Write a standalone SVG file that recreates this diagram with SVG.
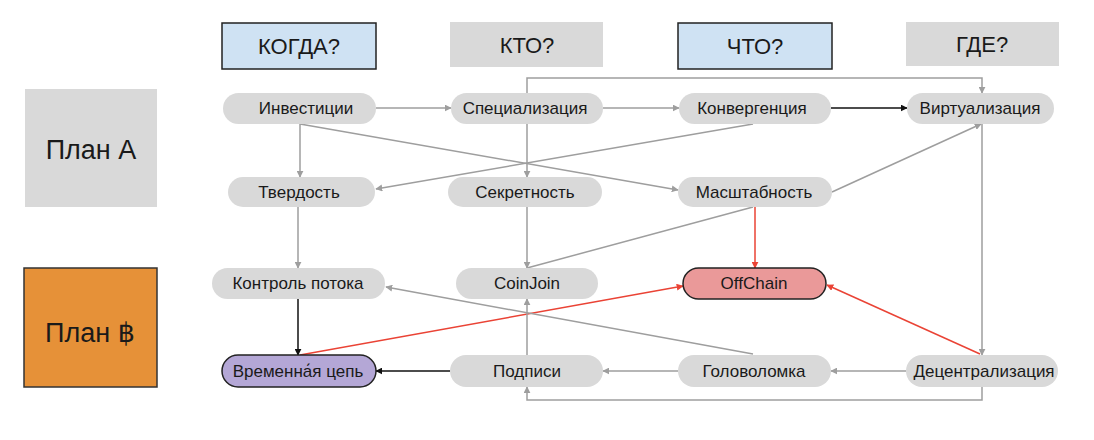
<svg xmlns="http://www.w3.org/2000/svg" width="1094" height="440" viewBox="0 0 1094 440">
<style>
text{font-family:"Liberation Sans",Arial,"DejaVu Sans",sans-serif;fill:#1a1a1a;text-anchor:middle;dominant-baseline:central}
.n rect{fill:#d9d9d9}
.n text{font-size:17px}
.hd text{font-size:22px}
.pl text{font-size:27px}
.blue{fill:#cfe2f3;stroke:#222;stroke-width:1.5}
.gray{fill:#d9d9d9}
.g{fill:none;stroke:#9e9e9e;stroke-width:1.5}
.k{fill:none;stroke:#111;stroke-width:1.5}
.r{fill:none;stroke:#ea4335;stroke-width:1.5}
</style>
<defs>
<marker id="ag" viewBox="0 0 10 10" refX="9" refY="5" markerWidth="7" markerHeight="7" markerUnits="userSpaceOnUse" orient="auto"><path d="M0,0L10,5L0,10z" fill="#9e9e9e"/></marker>
<marker id="ak" viewBox="0 0 10 10" refX="9" refY="5" markerWidth="7" markerHeight="7" markerUnits="userSpaceOnUse" orient="auto"><path d="M0,0L10,5L0,10z" fill="#111"/></marker>
<marker id="ar" viewBox="0 0 10 10" refX="9" refY="5" markerWidth="7" markerHeight="7" markerUnits="userSpaceOnUse" orient="auto"><path d="M0,0L10,5L0,10z" fill="#ea4335"/></marker>
</defs>
<rect width="1094" height="440" fill="#fff"/>
<g id="connectors">
<path class="g" d="M376,108H451" marker-end="url(#ag)"/>
<path class="g" d="M603,108H679" marker-end="url(#ag)"/>
<path class="k" d="M831,108H907" marker-end="url(#ak)"/>
<path class="g" d="M527,93V78H982V93" marker-end="url(#ag)"/>
<path class="g" d="M300,124V177" marker-end="url(#ag)"/>
<path class="g" d="M300,124L678,190" marker-end="url(#ag)"/>
<path class="g" d="M753,124L376,189" marker-end="url(#ag)"/>
<path class="g" d="M527,124V177" marker-end="url(#ag)"/>
<path class="g" d="M832,192L981,124" marker-end="url(#ag)"/>
<path class="g" d="M982,124V355" marker-end="url(#ag)"/>
<path class="g" d="M298,207V268" marker-end="url(#ag)"/>
<path class="g" d="M527,207V268" marker-end="url(#ag)"/>
<path class="g" d="M753,207L527,268"/>
<path class="r" d="M755,207V268" marker-end="url(#ar)"/>
<path class="k" d="M298,299V355" marker-end="url(#ak)"/>
<path class="r" d="M300,355L683,286" marker-end="url(#ar)"/>
<path class="r" d="M980,354L827,285" marker-end="url(#ar)"/>
<path class="g" d="M753,354L386,287" marker-end="url(#ag)"/>
<path class="g" d="M527,355V299" marker-end="url(#ag)"/>
<path class="k" d="M450,371H376" marker-end="url(#ak)"/>
<path class="g" d="M678,371H603" marker-end="url(#ag)"/>
<path class="g" d="M906,371H831" marker-end="url(#ag)"/>
<path class="g" d="M982,387V400H527V387" marker-end="url(#ag)"/>
</g>
<g id="h-when" class="hd"><rect class="blue" x="222" y="23" width="154" height="46"/><text x="299" y="46">КОГДА?</text></g>
<g id="h-who" class="hd"><rect class="gray" x="450" y="22" width="153" height="45"/><text x="527" y="45">КТО?</text></g>
<g id="h-what" class="hd"><rect class="blue" x="678" y="23" width="154" height="46"/><text x="755" y="46">ЧТО?</text></g>
<g id="h-where" class="hd"><rect class="gray" x="906" y="22" width="153" height="44"/><text x="982" y="44">ГДЕ?</text></g>
<g id="plan-a" class="pl"><rect class="gray" x="25" y="89" width="132" height="118"/><text x="91" y="150">План А</text></g>
<g id="plan-b" class="pl"><rect x="24" y="268" width="133" height="119" fill="#e69138" stroke="#333" stroke-width="1.5"/><text x="90" y="333">План ฿</text></g>
<g id="n-invest" class="n"><rect x="223" y="93" width="153" height="31" rx="15.5"/><text x="306" y="108.5">Инвестиции</text></g>
<g id="n-spec" class="n"><rect x="451" y="93" width="152" height="31" rx="15.5"/><text x="525" y="108.5">Специализация</text></g>
<g id="n-conv" class="n"><rect x="679" y="93" width="152" height="31" rx="15.5"/><text x="752" y="108.5">Конвергенция</text></g>
<g id="n-virt" class="n"><rect x="907" y="93" width="147" height="31" rx="15.5"/><text x="980" y="108.5">Виртуализация</text></g>
<g id="n-tverd" class="n"><rect x="228" y="177" width="147" height="30" rx="15"/><text x="299" y="192">Твердость</text></g>
<g id="n-secret" class="n"><rect x="448" y="177" width="154" height="30" rx="15"/><text x="525" y="192">Секретность</text></g>
<g id="n-scale" class="n"><rect x="678" y="177" width="154" height="30" rx="15"/><text x="754" y="192">Масштабность</text></g>
<g id="n-flow" class="n"><rect x="212" y="268" width="173" height="31" rx="15.5"/><text x="298" y="283.5">Контроль потока</text></g>
<g id="n-coinjoin" class="n"><rect x="456" y="268" width="142" height="31" rx="15.5"/><text x="527" y="283.5">CoinJoin</text></g>
<g id="n-offchain" class="n"><rect x="683" y="268" width="143" height="31" rx="15.5" style="fill:#ea9999;stroke:#222;stroke-width:1.5"/><text x="754" y="283.5">OffChain</text></g>
<g id="n-timechain" class="n"><rect x="222" y="355" width="154" height="32" rx="16" style="fill:#b4a7d6;stroke:#222;stroke-width:1.5"/><text x="298" y="371">Временна́я цепь</text></g>
<g id="n-sign" class="n"><rect x="450" y="355" width="153" height="32" rx="16"/><text x="527" y="371">Подписи</text></g>
<g id="n-puzzle" class="n"><rect x="678" y="355" width="153" height="32" rx="16"/><text x="754" y="371">Головоломка</text></g>
<g id="n-decent" class="n"><rect x="906" y="355" width="152" height="32" rx="16"/><text x="984" y="371">Децентрализация</text></g>
</svg>
